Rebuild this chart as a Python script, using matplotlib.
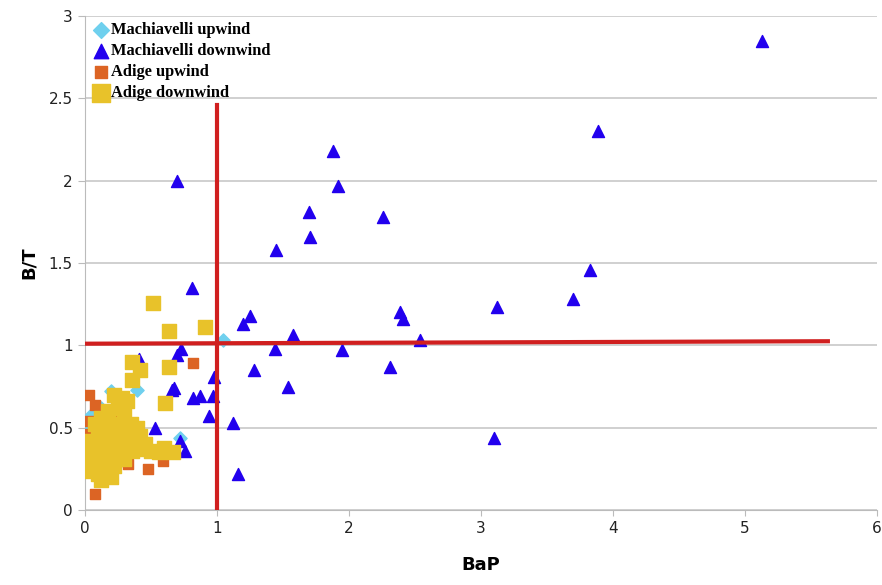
import matplotlib.pyplot as plt

# Machiavelli upwind (diamonds)
mu_x = [1.05, 0.72, 0.40, 0.01, 0.01, 0.05, 0.12, 0.20, 0.25, 0.30, 0.15, 0.10, 0.22, 0.35, 0.02]
mu_y = [1.03, 0.44, 0.73, 0.48, 0.40, 0.58, 0.62, 0.72, 0.55, 0.45, 0.40, 0.30, 0.35, 0.40, 0.34]

# Machiavelli downwind (triangles)
md_x = [5.13, 3.89, 1.88, 0.70, 1.92, 1.70, 2.26, 1.71, 1.45, 3.83, 3.70, 0.81, 1.25, 1.20,
        2.39, 2.41, 3.12, 1.58, 2.54, 1.44, 1.95, 0.73, 0.70, 1.28, 2.31, 0.98, 0.66, 0.68,
        0.82, 0.87, 0.97, 1.54, 0.94, 1.12, 3.10, 1.16, 0.72, 0.76, 0.53, 0.41, 0.38, 0.30,
        0.20, 0.12]
md_y = [2.85, 2.30, 2.18, 2.00, 1.97, 1.81, 1.78, 1.66, 1.58, 1.46, 1.28, 1.35, 1.18, 1.13,
        1.20, 1.16, 1.23, 1.06, 1.03, 0.98, 0.97, 0.98, 0.94, 0.85, 0.87, 0.81, 0.73, 0.74,
        0.68, 0.69, 0.69, 0.75, 0.57, 0.53, 0.44, 0.22, 0.42, 0.36, 0.50, 0.92, 0.47, 0.55,
        0.40, 0.33]

# Adige upwind (orange squares)
au_x = [0.82, 0.03, 0.03, 0.08, 0.02, 0.08, 0.48, 0.59, 0.12, 0.05, 0.20, 0.30, 0.18, 0.28,
        0.14, 0.33, 0.06, 0.25]
au_y = [0.89, 0.70, 0.54, 0.64, 0.46, 0.10, 0.25, 0.30, 0.20, 0.26, 0.58, 0.55, 0.35, 0.30,
        0.48, 0.28, 0.40, 0.65]

# Adige downwind (yellow squares)
ad_x = [0.52, 0.64, 0.91, 0.36, 0.42, 0.36, 0.64, 0.61, 0.67,
        0.22, 0.28, 0.32, 0.25, 0.30, 0.18, 0.12, 0.08, 0.15, 0.22, 0.28, 0.35, 0.40, 0.42,
        0.38, 0.32, 0.25, 0.18, 0.10, 0.04, 0.02, 0.08, 0.14, 0.20, 0.26, 0.30, 0.36, 0.44,
        0.50, 0.56, 0.60, 0.46, 0.02, 0.06, 0.12, 0.18, 0.24, 0.30, 0.04, 0.10, 0.16, 0.22,
        0.12, 0.20, 0.06]
ad_y = [1.26, 1.09, 1.11, 0.90, 0.85, 0.79, 0.87, 0.65, 0.35,
        0.70, 0.68, 0.66, 0.62, 0.58, 0.60, 0.56, 0.52, 0.50, 0.52, 0.50, 0.52, 0.50, 0.45,
        0.42, 0.45, 0.45, 0.44, 0.45, 0.42, 0.38, 0.36, 0.38, 0.38, 0.40, 0.36, 0.36, 0.37,
        0.36, 0.35, 0.38, 0.40, 0.30, 0.28, 0.30, 0.32, 0.33, 0.31, 0.24, 0.22, 0.25, 0.27,
        0.18, 0.20, 0.34]

fig = plt.figure(figsize=(8.82, 5.85), dpi=100)
ax = fig.add_axes([0.096, 0.128, 0.898, 0.845])

ax.scatter(mu_x, mu_y, marker='D', s=45, color='#6fd0ee', label='Machiavelli upwind', zorder=3)
ax.scatter(md_x, md_y, marker='^', s=75, color='#2200ee', label='Machiavelli downwind', zorder=4)
ax.scatter(au_x, au_y, marker='s', s=60, color='#dc6424', label='Adige upwind', zorder=5)
ax.scatter(ad_x, ad_y, marker='s', s=110, color='#e8c22a', label='Adige downwind', zorder=6)

# threshold lines
ax.plot([1, 1], [0, 2.46], color='#d01f1f', lw=3, zorder=7)
ax.plot([0, 5.63], [1.01, 1.025], color='#d01f1f', lw=3, zorder=7)

ax.set_xlim(0, 6)
ax.set_ylim(0, 3)
ax.set_xticks(range(7))
ax.set_yticks([0, 0.5, 1, 1.5, 2, 2.5, 3])
ax.set_yticklabels(['0', '0.5', '1', '1.5', '2', '2.5', '3'])
ax.tick_params(labelsize=11, colors='#222222', length=4)
ax.tick_params(axis='y', length=5, color='#bbbbbb')
ax.tick_params(axis='x', color='#bbbbbb')
ax.yaxis.grid(True, color='#c8c8c8', lw=1.2)
ax.set_axisbelow(True)
for s in ['top', 'right']:
    ax.spines[s].set_visible(False)
for s in ['left', 'bottom']:
    ax.spines[s].set_color('#bbbbbb')

ax.set_xlabel('BaP', fontsize=13, fontweight='bold', labelpad=15)
ax.set_ylabel('B/T', fontsize=13, fontweight='bold', labelpad=8)

leg = ax.legend(loc='upper left', frameon=False, handletextpad=0.0, borderaxespad=0.0,
                labelspacing=0.3, handlelength=1.2, markerscale=1.2,
                bbox_to_anchor=(0.0, 1.0),
                prop={'family': 'Liberation Serif', 'weight': 'bold', 'size': 11.8})

fig.savefig('out.png', dpi=100)
